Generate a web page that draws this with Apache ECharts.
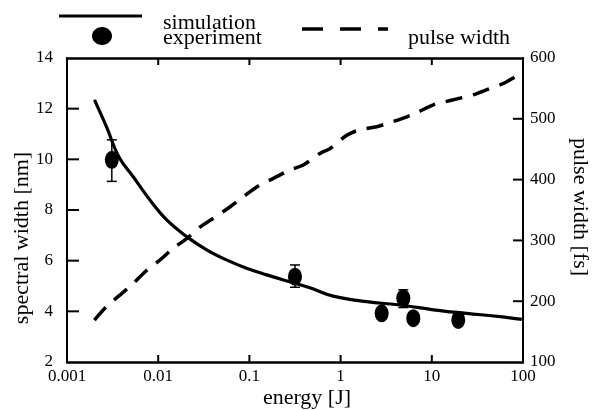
<!DOCTYPE html>
<html>
<head>
<meta charset="utf-8">
<script src="https://cdn.jsdelivr.net/npm/echarts@6/dist/echarts.min.js"></script>
<style>
html,body{margin:0;padding:0;background:#fff;}
#c{width:598px;height:410px;}
</style>
</head>
<body>
<div id="c"></div>
<script>
var xTickLabels = ['0.001', '0.01', '0.1', '1', '10', '100'];
var xTickValues = [0.001, 0.01, 0.1, 1, 10, 100];
var leftTicks = [2, 4, 6, 8, 10, 12, 14];
var rightTicks = [100, 200, 300, 400, 500, 600];

var simEnergy = [0.002, 0.0027, 0.0037, 0.0053, 0.0081, 0.0124, 0.0205, 0.034, 0.056, 0.093, 0.155, 0.30, 0.46, 0.83, 1.93, 4.48, 10.4, 24.1, 56, 97];
var simWidth  = [12.35, 11.3, 10.1, 9.32, 8.40, 7.61, 6.95, 6.43, 6.03, 5.70, 5.44, 5.13, 4.93, 4.60, 4.38, 4.25, 4.06, 3.92, 3.79, 3.68];

var pulseEnergy = [0.002, 0.0027, 0.0038, 0.0053, 0.0075, 0.0105, 0.0146, 0.0205, 0.0287, 0.040, 0.061, 0.086, 0.13, 0.183, 0.279, 0.39, 0.594, 0.765, 1.17, 1.63, 2.49, 3.2, 4.87, 6.8, 10.4, 13.2, 20.4, 27.9, 43.5, 60.8, 88.7, 100];
var pulseWidth  = [169, 191, 210, 229, 251, 268, 287, 303, 322, 336, 355, 372, 391, 402, 416, 424, 443, 451, 473, 482, 487, 492, 501, 510, 523, 527, 534, 539, 550, 558, 572, 575];

var expEnergy = [0.0031, 0.316, 2.82, 4.87, 6.27, 19.5];
var expWidth  = [9.98, 5.37, 3.92, 4.52, 3.73, 3.66];
var expLow    = [9.13, 4.95, null, 4.15, null, null];
var expHigh   = [10.77, 5.83, null, 4.85, null, null];

function zip(a, b) { return a.map(function (v, i) { return [v, b[i]]; }); }
var errData = [];
expEnergy.forEach(function (e, i) {
  if (expLow[i] !== null) errData.push([e, expLow[i], expHigh[i]]);
});

var serif = '"Liberation Serif", "DejaVu Serif", serif';
var chart = echarts.init(document.getElementById('c'), null, {renderer: 'canvas'});

var logLabel = function (v) {
  var i = Math.round(Math.log10(v)) + 3;
  return xTickLabels[i] !== undefined ? xTickLabels[i] : '';
};

// tick marks: a custom series reading positions from the axes (one item per tick)
var tickItems = [];
xTickValues.slice(1, -1).forEach(function (v) { tickItems.push([v, 8, 0]); });
leftTicks.slice(1, -1).forEach(function (v) { tickItems.push([1, v, 1]); });
var rightTickItems = rightTicks.slice(1, -1).map(function (v) { return [1, v, 2]; });

function tickRender(params, api) {
  var kind = api.value(2);
  var cs = params.coordSys;
  var p = api.coord([api.value(0), api.value(1)]);
  var s = {stroke: '#000', lineWidth: 2};
  if (kind === 0) {
    var b = cs.y + cs.height, t = cs.y;
    return {type: 'group', children: [
      {type: 'line', shape: {x1: p[0], y1: b, x2: p[0], y2: b - 7}, style: s},
      {type: 'line', shape: {x1: p[0], y1: t, x2: p[0], y2: t + 7}, style: {stroke: '#000', lineWidth: 2}}
    ]};
  }
  if (kind === 1) {
    return {type: 'line', shape: {x1: cs.x, y1: p[1], x2: cs.x + 12, y2: p[1]}, style: s};
  }
  return {type: 'line', shape: {x1: cs.x + cs.width, y1: p[1], x2: cs.x + cs.width - 10, y2: p[1]}, style: s};
}

chart.setOption({
  animation: false,
  backgroundColor: '#fff',
  grid: {left: 67, right: 75, top: 58, bottom: 48, containLabel: false},
  xAxis: [{
    type: 'log', logBase: 10, min: 0.001, max: 100, position: 'bottom',
    axisLine: {show: true, onZero: false, lineStyle: {color: '#000', width: 2.5}},
    axisTick: {show: false},
    axisLabel: {formatter: logLabel, color: '#000', fontFamily: serif, fontSize: 17, margin: 6},
    splitLine: {show: false}, minorTick: {show: false}
  }, {
    type: 'log', logBase: 10, min: 0.001, max: 100, position: 'top',
    axisLine: {show: true, onZero: false, lineStyle: {color: '#000', width: 2.5}},
    axisTick: {show: false}, axisLabel: {show: false}, splitLine: {show: false}
  }],
  yAxis: [{
    type: 'value', min: 2, max: 14, interval: 2, position: 'left',
    axisLine: {show: true, onZero: false, lineStyle: {color: '#000', width: 2}},
    axisTick: {show: false},
    axisLabel: {color: '#000', fontFamily: serif, fontSize: 17, margin: 14,
      formatter: function (v) { return leftTicks.indexOf(v) >= 0 ? String(v) : ''; }},
    splitLine: {show: false}
  }, {
    type: 'value', min: 100, max: 600, interval: 100, position: 'right',
    axisLine: {show: true, onZero: false, lineStyle: {color: '#000', width: 2}},
    axisTick: {show: false},
    axisLabel: {color: '#000', fontFamily: serif, fontSize: 17, margin: 7,
      formatter: function (v) { return rightTicks.indexOf(v) >= 0 ? String(v) : ''; }},
    splitLine: {show: false}
  }],
  series: [{
    name: 'ticks', type: 'custom', xAxisIndex: 0, yAxisIndex: 0,
    data: tickItems, renderItem: tickRender, z: 1
  }, {
    name: 'ticks2', type: 'custom', xAxisIndex: 0, yAxisIndex: 1,
    data: rightTickItems, renderItem: tickRender, z: 1
  }, {
    name: 'simulation', type: 'line', xAxisIndex: 0, yAxisIndex: 0,
    data: zip(simEnergy, simWidth), smooth: 0.4, showSymbol: false,
    lineStyle: {color: '#000', width: 3.2}
  }, {
    name: 'pulse width', type: 'line', xAxisIndex: 0, yAxisIndex: 1,
    data: zip(pulseEnergy, pulseWidth), smooth: 0.3, showSymbol: false,
    lineStyle: {color: '#000', width: 3.5, type: [17, 11]}
  }, {
    name: 'errorbars', type: 'custom', xAxisIndex: 0, yAxisIndex: 0,
    data: errData,
    renderItem: function (params, api) {
      var lo = api.coord([api.value(0), api.value(1)]);
      var hi = api.coord([api.value(0), api.value(2)]);
      var w = 5;
      return {type: 'group', children: [
        {type: 'line', shape: {x1: lo[0], y1: lo[1], x2: hi[0], y2: hi[1]}, style: {stroke: '#000', lineWidth: 1.5}},
        {type: 'line', shape: {x1: lo[0] - w, y1: lo[1], x2: lo[0] + w, y2: lo[1]}, style: {stroke: '#000', lineWidth: 1.5}},
        {type: 'line', shape: {x1: hi[0] - w, y1: hi[1], x2: hi[0] + w, y2: hi[1]}, style: {stroke: '#000', lineWidth: 1.5}}
      ]};
    },
    z: 3
  }, {
    name: 'experiment', type: 'scatter', xAxisIndex: 0, yAxisIndex: 0,
    data: zip(expEnergy, expWidth), symbol: 'circle', symbolSize: [14, 18],
    itemStyle: {color: '#000', opacity: 1}, z: 4
  }],
  graphic: [
    {type: 'line', shape: {x1: 59, y1: 16, x2: 142, y2: 16}, style: {stroke: '#000', lineWidth: 3}},
    {type: 'ellipse', shape: {cx: 102, cy: 36, rx: 10, ry: 9}, style: {fill: '#000'}},
    {type: 'text', x: 163, y: 23, style: {text: 'simulation', font: '22px ' + serif, fill: '#000', textAlign: 'left', textVerticalAlign: 'middle'}},
    {type: 'text', x: 163, y: 38, style: {text: 'experiment', font: '22px ' + serif, fill: '#000', textAlign: 'left', textVerticalAlign: 'middle'}},
    {type: 'line', shape: {x1: 302, y1: 29, x2: 388, y2: 29}, style: {stroke: '#000', lineWidth: 3.5, lineDash: [21, 17]}},
    {type: 'text', x: 408, y: 38, style: {text: 'pulse width', font: '22px ' + serif, fill: '#000', textAlign: 'left', textVerticalAlign: 'middle'}},
    {type: 'text', x: 22, y: 238, rotation: Math.PI / 2, style: {text: 'spectral width [nm]', font: '22px ' + serif, fill: '#000', textAlign: 'center', textVerticalAlign: 'middle'}},
    {type: 'text', x: 580, y: 207, rotation: -Math.PI / 2, style: {text: 'pulse width [fs]', font: '22px ' + serif, fill: '#000', textAlign: 'center', textVerticalAlign: 'middle'}},
    {type: 'text', x: 307, y: 398, style: {text: 'energy [J]', font: '22px ' + serif, fill: '#000', textAlign: 'center', textVerticalAlign: 'middle'}}
  ]
});
</script>
</body>
</html>
